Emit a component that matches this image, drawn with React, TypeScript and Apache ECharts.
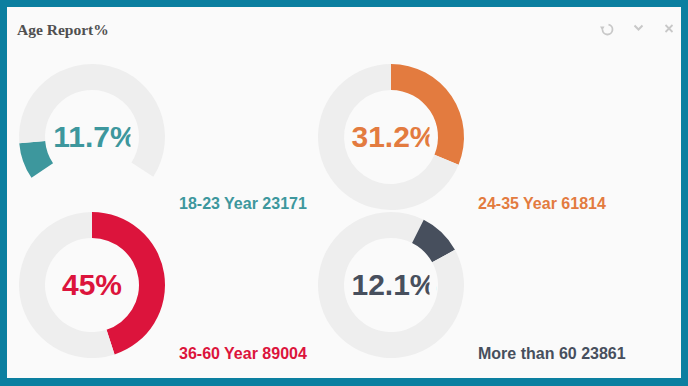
import React, { useEffect, useRef } from "react";
import * as echarts from "echarts";

// Labels and values
const titleText = "Age Report%";
const groupNames = ["18-23 Year", "24-35 Year", "36-60 Year", "More than 60"];
const groupCounts = [23171, 61814, 89004, 23861];
const percentLabels = ["11.7%", "31.2%", "45%", "12.1%"];

// Visible arcs of each ring (percent of the full circle), clockwise from the start
const ring1Arcs = [8.1, 60.5, 31.4];
const ring1Roles = ["value", "rest", "gap"];
const ring2Arcs = [31.2, 68.8];
const ring2Roles = ["value", "rest"];
const ring3Arcs = [45, 55];
const ring3Roles = ["value", "rest"];
const ring4Arcs = [7.4, 9.6, 83.0];
const ring4Roles = ["rest", "value", "rest"];
// start of each ring, degrees clockwise from 12 o'clock
const ringStarts = [236, 0, 0, 0];

const ringColors = ["#3d979d", "#e37b3f", "#dc143c", "#474f5d"];
const restColor = "#eeeeee";
const panelColor = "#fafafa";
const frameColor = "#0b7fa0";

const centers: [number, number][] = [
  [92, 137],
  [391, 137],
  [92, 285],
  [391, 285],
];
const labelShift: [number, number][] = [
  [3, -1],
  [3, -1],
  [0, -1],
  [3, -1],
];
const innerR = 47;
const outerR = 73;

export default function App() {
  const ref = useRef<HTMLDivElement>(null);

  useEffect(() => {
    if (!ref.current) return;
    const chart = echarts.init(ref.current, undefined, { renderer: "svg" });

    const arcs = [ring1Arcs, ring2Arcs, ring3Arcs, ring4Arcs];
    const roles = [ring1Roles, ring2Roles, ring3Roles, ring4Roles];

    const series = arcs.map((vals, i) => ({
      type: "pie",
      silent: true,
      center: centers[i],
      radius: [innerR, outerR],
      startAngle: 90 - ringStarts[i],
      clockwise: true,
      avoidLabelOverlap: false,
      emphasis: { disabled: true },
      labelLine: { show: false },
      label: { show: false },
      data: vals.map((v, j) => {
        const role = roles[i][j];
        const color =
          role === "value" ? ringColors[i] : role === "rest" ? restColor : "rgba(0,0,0,0)";
        return {
          value: v,
          name: `${groupNames[i]}-${j}`,
          itemStyle: { color, borderWidth: 0 },
          label:
            role === "value"
              ? {
                  show: true,
                  position: "center",
                  formatter: percentLabels[i],
                  offset: labelShift[i],
                  color: ringColors[i],
                  fontSize: 30,
                  fontWeight: "bold",
                  fontFamily: "Liberation Sans, Arial, sans-serif",
                }
              : { show: false },
        };
      }),
    }));

    const captionPos: [number, number][] = [
      [179, 203],
      [478, 203],
      [179, 353],
      [478, 353],
    ];

    const graphic: any[] = [
      {
        type: "rect",
        z: -10,
        shape: { x: 7, y: 7, width: 674, height: 371 },
        style: { fill: panelColor },
      },
      {
        type: "text",
        x: 17,
        y: 29,
        style: {
          text: titleText,
          fill: "#505050",
          font: "bold 15.5px 'Liberation Serif', 'Times New Roman', serif",
          textVerticalAlign: "middle",
          textAlign: "left",
        },
      },
      // toolbar icons
      {
        type: "arc",
        shape: { cx: 607.5, cy: 29.5, r: 5, startAngle: -Math.PI / 2 + 0.2, endAngle: Math.PI, clockwise: true },
        style: { stroke: "#c8c8c8", lineWidth: 1.8, fill: "none" },
      },
      {
        type: "polygon",
        shape: { points: [[600, 26.5], [604.5, 26.5], [602.3, 30.5]] },
        style: { fill: "#c8c8c8" },
      },
      {
        type: "polyline",
        shape: { points: [[634.5, 25.5], [638.5, 29.5], [642.5, 25.5]] },
        style: { stroke: "#c8c8c8", lineWidth: 2, fill: "none" },
      },
      {
        type: "line",
        shape: { x1: 665.5, y1: 25, x2: 672.5, y2: 32 },
        style: { stroke: "#c8c8c8", lineWidth: 1.8 },
      },
      {
        type: "line",
        shape: { x1: 672.5, y1: 25, x2: 665.5, y2: 32 },
        style: { stroke: "#c8c8c8", lineWidth: 1.8 },
      },
    ];

    groupNames.forEach((name, i) => {
      graphic.push({
        type: "text",
        x: captionPos[i][0],
        y: captionPos[i][1],
        style: {
          text: `${name} ${groupCounts[i]}`,
          fill: ringColors[i],
          font: "bold 16px 'Liberation Sans', Arial, sans-serif",
          textVerticalAlign: "middle",
          textAlign: "left",
        },
      });
      // the centre figure is cut off at the right edge of the hole
      graphic.push({
        type: "rect",
        z: 100,
        shape: { x: centers[i][0] + 38.5, y: centers[i][1] - 14, width: 6.5, height: 26 },
        style: { fill: panelColor },
      });
    });

    chart.setOption({
      animation: false,
      backgroundColor: frameColor,
      series,
      graphic,
    } as any);

    return () => chart.dispose();
  }, []);

  return (
    <div
      ref={ref}
      style={{ position: "fixed", left: 0, top: 0, width: 688, height: 386 }}
    />
  );
}
